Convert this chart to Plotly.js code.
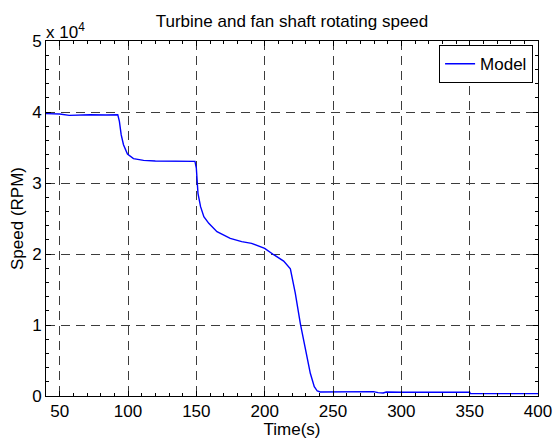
<!DOCTYPE html>
<html>
<head>
<meta charset="utf-8">
<script src="https://cdn.plot.ly/plotly-3.0.1.min.js"></script>
<style>
  html, body { margin: 0; padding: 0; background: #fff; }
  #chart { width: 554px; height: 439px; }
</style>
</head>
<body>
<div id="chart"></div>
<script>
// Time (s)
const timeS = [40, 50, 57, 65, 72, 84, 92.5, 93.7, 95, 96.7, 99.6, 104, 111.4, 120, 133.5, 149, 150, 150.5, 151.2, 153.1, 155.5, 159.1, 165.1, 174.8, 183.2, 190.4, 200, 206.6, 213.9, 218.8, 222.4, 226.1, 229.8, 233.4, 236.3, 238.5, 240.7, 250, 267.5, 279.6, 283, 286.7, 289, 300, 350, 350.5, 379, 400];
// Speed (RPM)
const speedRPM = [39770, 39720, 39530, 39600, 39620, 39580, 39620, 38690, 36810, 35400, 34080, 33430, 33190, 33100, 33050, 33050, 32110, 30230, 28550, 26670, 25260, 24320, 23150, 22200, 21740, 21500, 20800, 19900, 19000, 17900, 14500, 10200, 6500, 3200, 1300, 700, 560, 560, 520, 610, 470, 420, 560, 520, 520, 330, 330, 330];
// y tick labels (x 10^4)
const yTickVals = [0, 10000, 20000, 30000, 40000, 50000];
const yTickText = ['0', '1', '2', '3', '4', '5'];

const FONT = 'Liberation Sans, Arial, sans-serif';
const FS = 17;

const trace = {
  x: timeS,
  y: speedRPM,
  type: 'scatter',
  mode: 'lines',
  name: 'Model',
  line: { color: '#0000ff', width: 1.4 }
};

const layout = {
  width: 554,
  height: 439,
  margin: { l: 46, r: 16, t: 41, b: 43 },
  paper_bgcolor: '#ffffff',
  plot_bgcolor: '#ffffff',
  font: { family: FONT, size: FS, color: '#000' },
  title: {
    text: 'Turbine and fan shaft rotating speed',
    font: { family: FONT, size: FS, color: '#000' },
    xref: 'paper', x: 0.5, xanchor: 'center',
    yref: 'container', y: 1 - 21 / 439, yanchor: 'middle'
  },
  xaxis: {
    range: [40, 400],
    tickmode: 'linear', tick0: 50, dtick: 50,
    ticks: 'inside', ticklen: 5, tickcolor: '#000', tickwidth: 1,
    showline: true, linecolor: '#000', linewidth: 1, mirror: 'allticks',
    showgrid: true, gridcolor: '#3c3c3c', gridwidth: 1, griddash: '9px,6px',
    zeroline: false,
    tickfont: { family: FONT, size: FS, color: '#000' },
    minor: { tickmode: 'linear', tick0: 40, dtick: 10, ticks: 'inside', ticklen: 3, tickcolor: '#000', tickwidth: 1, showgrid: false },
    title: { text: 'Time(s)', font: { family: FONT, size: FS, color: '#000' }, standoff: 0 }
  },
  yaxis: {
    range: [0, 50000],
    tickmode: 'array', tickvals: yTickVals, ticktext: yTickText,
    ticks: 'inside', ticklen: 5, tickcolor: '#000', tickwidth: 1,
    showline: true, linecolor: '#000', linewidth: 1, mirror: 'allticks',
    showgrid: true, gridcolor: '#3c3c3c', gridwidth: 1, griddash: '9px,6px',
    zeroline: false,
    tickfont: { family: FONT, size: FS, color: '#000' },
    minor: { tickmode: 'linear', tick0: 0, dtick: 2000, ticks: 'inside', ticklen: 3, tickcolor: '#000', tickwidth: 1, showgrid: false },
    title: { text: 'Speed (RPM)', font: { family: FONT, size: FS, color: '#000' }, standoff: 4 }
  },
  showlegend: true,
  legend: {
    x: 0.99, xanchor: 'right', y: 0.988, yanchor: 'top',
    bgcolor: '#ffffff', bordercolor: '#000', borderwidth: 1,
    font: { family: FONT, size: FS, color: '#000' },
    itemwidth: 30, tracegroupgap: 0
  },
  annotations: [{
    xref: 'paper', yref: 'paper', x: 0, y: 1,
    xanchor: 'left', yanchor: 'bottom', yshift: -3, xshift: -2,
    text: 'x 10<sup>4</sup>', showarrow: false,
    font: { family: FONT, size: FS, color: '#000' }
  }]
};

Plotly.newPlot('chart', [trace], layout, { displayModeBar: false, staticPlot: true });
</script>
</body>
</html>
